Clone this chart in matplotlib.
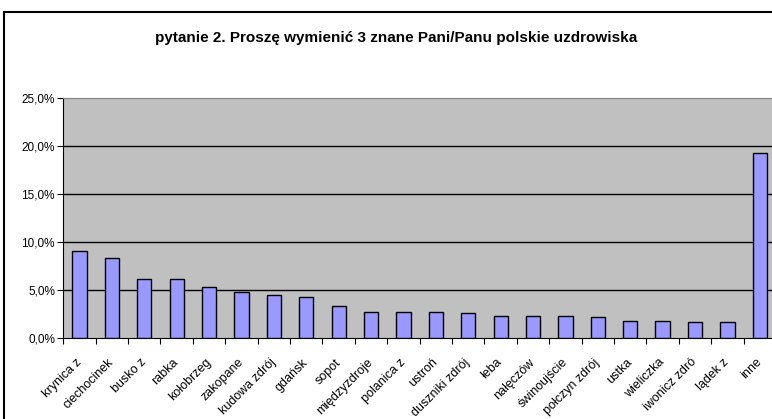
import numpy as np
import matplotlib.pyplot as plt
from matplotlib.patches import Rectangle

############### DATA ###################

categories = ["krynica z", "ciechocinek", "busko z", "rabka", "kołobrzeg", "zakopane",
              "kudowa zdrój", "gdańsk", "sopot", "międzyzdroje", "polanica z", "ustroń",
              "duszniki zdrój", "łeba", "nałęczów", "świnoujście", "połczyn zdrój", "ustka",
              "wieliczka", "iwonicz zdró", "lądek z", "inne"]
values = [9.1, 8.4, 6.2, 6.2, 5.3, 4.8, 4.5, 4.3, 3.4, 2.7, 2.7, 2.7,
          2.6, 2.3, 2.3, 2.3, 2.2, 1.8, 1.8, 1.7, 1.7, 19.3]
y_ticks = [0, 5, 10, 15, 20, 25]
title = "pytanie 2. Proszę wymienić 3 znane Pani/Panu polskie uzdrowiska"

############### PLOT ###################

plt.rcParams['font.family'] = ['Liberation Sans', 'DejaVu Sans']

W, H = 772, 419
fig = plt.figure(figsize=(W/100, H/100), dpi=100)

# outer chart frame (cropped at right and bottom in the original)
fig.patches.append(Rectangle((4/W, -0.1), 1.2, 1.1 - 12/H, transform=fig.transFigure,
                             fill=False, edgecolor='black', linewidth=1.5))

x0, x1 = 63.3, 776.0
ytop, ybot = 98.3, 338.3
ax = fig.add_axes([x0/W, 1 - ybot/H, (x1 - x0)/W, (ybot - ytop)/H])
ax.set_facecolor('#C0C0C0')

x = np.arange(len(categories))
ax.bar(x, values, width=0.44, color='#9999FF', edgecolor='black', linewidth=1.0, zorder=3)

ax.set_xlim(-0.5, len(categories) - 0.5)
ax.set_ylim(0, 25)
ax.set_yticks(y_ticks)
ax.set_yticklabels([("%.1f%%" % v).replace('.', ',') for v in y_ticks])
ax.yaxis.set_tick_params(labelsize=8.5, length=4, width=0.8, direction='out', pad=2)
for v in y_ticks[1:-1]:
  ax.axhline(v, color='black', linewidth=1.0, zorder=1)

ax.set_xticks(x)
ax.set_xticklabels(categories, rotation=45, ha='right', va='center', rotation_mode='anchor', fontsize=9)
ax.tick_params(axis='x', which='major', length=0, pad=16)
ax.set_xticks(np.arange(len(categories) + 1) - 0.5, minor=True)
ax.tick_params(axis='x', which='minor', length=4, width=0.8, direction='out')

for s in ['top', 'right']:
  ax.spines[s].set_color('#808080')
ax.spines['left'].set_color('black')
ax.spines['bottom'].set_color('black')

fig.text(396/W, 1 - 38/H, title, ha='center', va='center', fontsize=11, fontweight='bold')

plt.savefig("out.png", dpi=100)
